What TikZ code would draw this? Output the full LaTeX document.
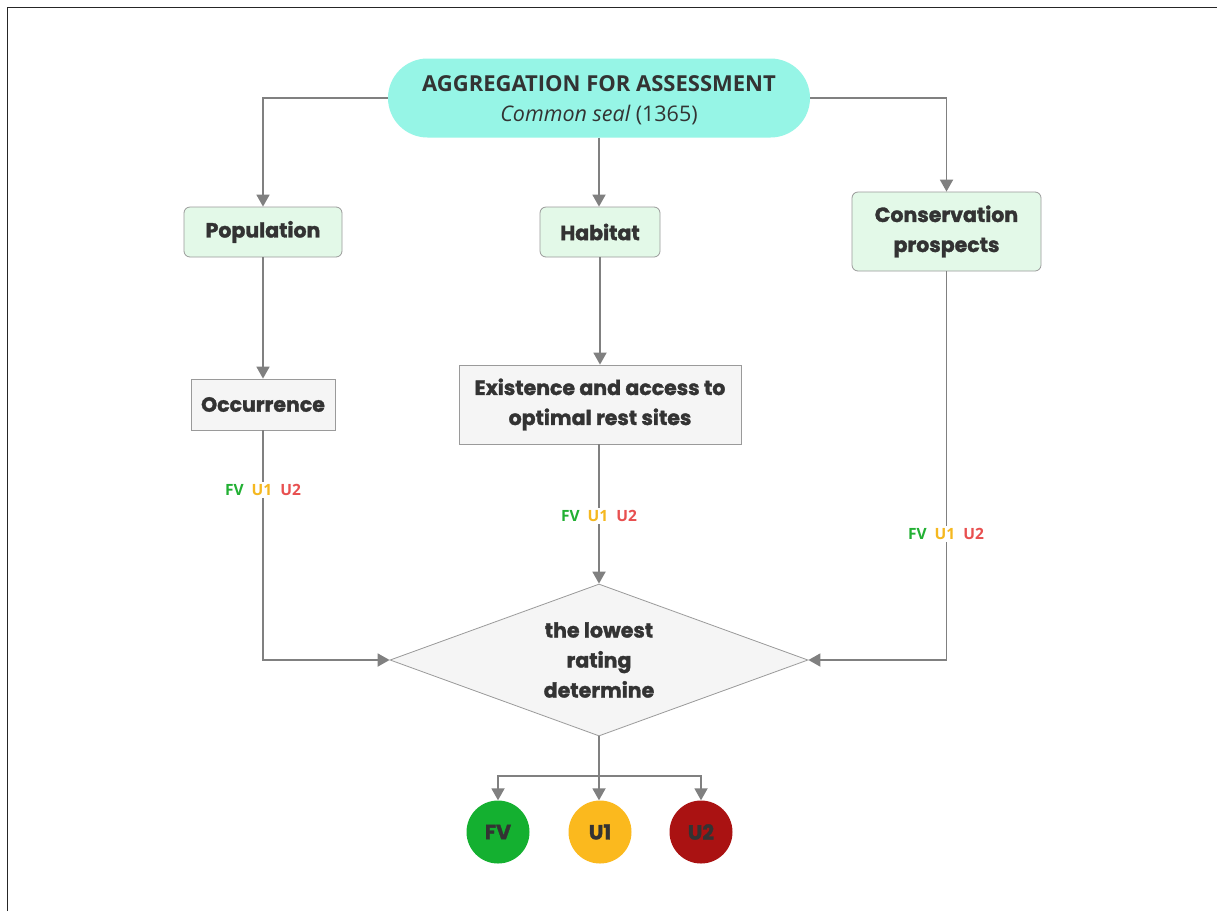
\documentclass[tikz,border=0pt]{standalone}
\usepackage{fontspec}
\setmainfont{Open Sans}
\newfontfamily\heavy{Poppins}[BoldFeatures={FakeBold=1.6}]
\usetikzlibrary{arrows.meta,shapes.geometric}
\definecolor{pillc}{HTML}{96F5E6}
\definecolor{greenbox}{HTML}{E3F9E8}
\definecolor{greybox}{HTML}{F5F5F5}
\definecolor{linec}{HTML}{808080}
\definecolor{bordc}{HTML}{9A9A9A}
\definecolor{txt}{HTML}{333333}
\definecolor{fvc}{HTML}{14B030}
\definecolor{u1c}{HTML}{FBB91E}
\definecolor{u2c}{HTML}{AA1212}
\definecolor{fvt}{HTML}{22B033}
\definecolor{u1t}{HTML}{F5B820}
\definecolor{u2t}{HTML}{E85050}
\tikzset{
  arr/.style={draw=linec, line width=1.8pt, -{Triangle[width=13pt,length=12pt]}, color=linec},
  boxfont/.style={font=\heavy\bfseries\fontsize{20.5}{30}\selectfont},
  gbox/.style={draw=bordc, line width=0.8pt, fill=greenbox, rounded corners=6pt, inner sep=0pt, text=txt, align=center, boxfont},
  pbox/.style={draw=bordc, line width=0.8pt, fill=greybox, inner sep=0pt, text=txt, align=center, boxfont},
  rate/.style={fill=white, inner sep=2pt, font=\bfseries\fontsize{15.5}{16}\selectfont},
  res/.style={circle, minimum size=63pt, inner sep=0pt, text=txt, font=\heavy\bfseries\fontsize{20.5}{24}\selectfont},
}
\begin{document}
\begin{tikzpicture}[x=1pt,y=-1pt]
\useasboundingbox (0,0) rectangle (1217,911);
\fill[white] (0,0) rectangle (1217,911);
\draw[black!85, line width=1pt] (7.5,911) -- (7.5,7.5) -- (1217,7.5);

\node[fill=pillc, rounded corners=39.5pt, minimum width=422pt, minimum height=79pt, inner sep=0pt, align=center, text=txt] (top) at (599,98) {};
\node[align=center, text=txt, font=\fontsize{22}{30}\selectfont, inner sep=0pt] (toptext) at (599,100)
  {\bfseries AGGREGATION FOR ASSESSMENT\\\fontsize{21.5}{30}\selectfont\itshape Common seal \upshape(1365)};

\node[gbox, minimum width=158pt, minimum height=50pt] (pop) at (263,232) {Population};
\node[gbox, minimum width=120pt, minimum height=50pt] (hab) at (600,232) {Habitat};
\node[gbox, minimum width=189pt, minimum height=79pt] (cons) at (946.5,231.5) {Conservation\\prospects};

\node[pbox, minimum width=144pt, minimum height=51pt] (occ) at (263,404.5) {Occurrence};
\node[pbox, minimum width=282pt, minimum height=79pt] (exi) at (600,404.5) {Existence and access to\\optimal rest sites};

\node[diamond, aspect=2.75, draw=bordc, line width=0.8pt, fill=greybox, minimum width=418pt, minimum height=152pt, inner sep=0pt, text=txt, align=center, boxfont] (dia) at (599,660) {the lowest\\rating\\determine};

\node[res, fill=fvc] (fv) at (498,832) {FV};
\node[res, fill=u1c] (u1) at (600,832) {U1};
\node[res, fill=u2c] (u2) at (701,832) {U2};

\draw[arr] (top.west) -| (pop.north);
\draw[arr] (top.south) -- (top.south |- hab.north);
\draw[arr] (top.east) -| (cons.north);
\draw[arr] (pop.south) -- (occ.north);
\draw[arr] (hab.south) -- (hab.south |- exi.north);
\draw[arr] (occ.south) |- (dia.west);
\draw[arr] (exi.south -| dia.north) -- (dia.north);
\draw[arr] (cons.south) |- (dia.east);
\coordinate (br) at (599,776);
\draw[linec, line width=1.8pt] (dia.south) -- (br);
\draw[arr] (br) -| (fv.north);
\draw[arr] (br) -| (u2.north);
\draw[arr] (br) -- (br |- u1.north);

\node[rate] (l1) at (263,490) {\textcolor{fvt}{FV}\hspace{8pt}\textcolor{u1t}{U1}\hspace{8pt}\textcolor{u2t}{U2}};
\node[rate] (l2) at (599,516) {\textcolor{fvt}{FV}\hspace{8pt}\textcolor{u1t}{U1}\hspace{8pt}\textcolor{u2t}{U2}};
\node[rate] (l3) at (946,534) {\textcolor{fvt}{FV}\hspace{8pt}\textcolor{u1t}{U1}\hspace{8pt}\textcolor{u2t}{U2}};
\end{tikzpicture}
\end{document}
